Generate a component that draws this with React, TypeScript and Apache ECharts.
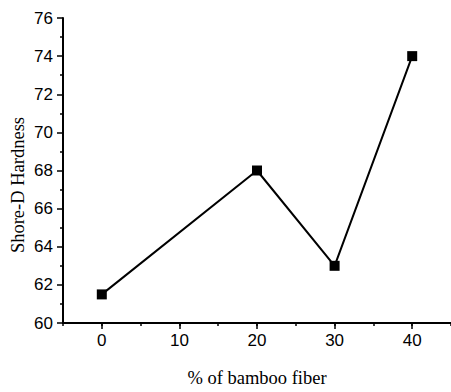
import React, { useEffect, useRef } from "react";
import * as echarts from "echarts";

const fiberPercent = [0, 20, 30, 40];
const hardness = [61.5, 68, 63, 74];
const xTickValues = [0, 10, 20, 30, 40];
const xTitle = "% of bamboo fiber";
const yTitle = "Shore-D Hardness";

export default function App() {
  const ref = useRef<HTMLDivElement>(null);
  useEffect(() => {
    if (!ref.current) return;
    const chart = echarts.init(ref.current, null, { renderer: "svg" });
    chart.setOption({
      animation: false,
      backgroundColor: "#ffffff",
      grid: { left: 63, top: 18, width: 391, height: 315, containLabel: false },
      xAxis: [
        {
          type: "value",
          min: -5,
          max: 45,
          interval: 5,
          name: xTitle,
          nameLocation: "middle",
          nameGap: 45,
          nameTextStyle: { fontFamily: "Liberation Serif", fontSize: 18.5, color: "#000" },
          axisLine: { show: true, onZero: false, lineStyle: { color: "#000", width: 2 } },
          axisTick: { show: true, length: 6, customValues: xTickValues, lineStyle: { color: "#000", width: 1.5 } },
          axisLabel: {
            fontFamily: "Liberation Sans",
            fontSize: 17,
            color: "#000",
            margin: 9,
            customValues: xTickValues,
          },
          splitLine: { show: false },
        },
        {
          type: "value",
          position: "bottom",
          min: -5,
          max: 45,
          interval: 5,
          axisLine: { show: false, onZero: false },
          axisTick: { show: true, length: 3, lineStyle: { color: "#000", width: 1.5 } },
          axisLabel: { show: false },
          splitLine: { show: false },
        },
      ],
      yAxis: {
        type: "value",
        min: 60,
        max: 76,
        interval: 2,
        axisLine: { show: true, onZero: false, lineStyle: { color: "#000", width: 2 } },
        axisTick: { show: true, length: 6, lineStyle: { color: "#000", width: 1.5 } },
        minorTick: { show: true, splitNumber: 2, length: 3, lineStyle: { color: "#000", width: 1.5 } },
        axisLabel: { fontFamily: "Liberation Sans", fontSize: 17, color: "#000", margin: 10 },
        splitLine: { show: false },
      },
      graphic: [
        {
          type: "text",
          x: 18,
          y: 185,
          rotation: Math.PI / 2,
          style: {
            text: yTitle,
            fontFamily: "Liberation Serif",
            fontSize: 18.5,
            fill: "#000",
            textAlign: "center",
            textVerticalAlign: "middle",
          },
        },
      ],
      series: [
        {
          type: "line",
          xAxisIndex: 0,
          data: fiberPercent.map((x, i) => [x, hardness[i]]),
          symbol: "rect",
          symbolSize: 10,
          lineStyle: { color: "#000", width: 2 },
          itemStyle: { color: "#000" },
        },
      ],
    });
    return () => chart.dispose();
  }, []);
  return (
    <div
      ref={ref}
      style={{ position: "fixed", left: 0, top: 0, width: 451, height: 392 }}
    />
  );
}
